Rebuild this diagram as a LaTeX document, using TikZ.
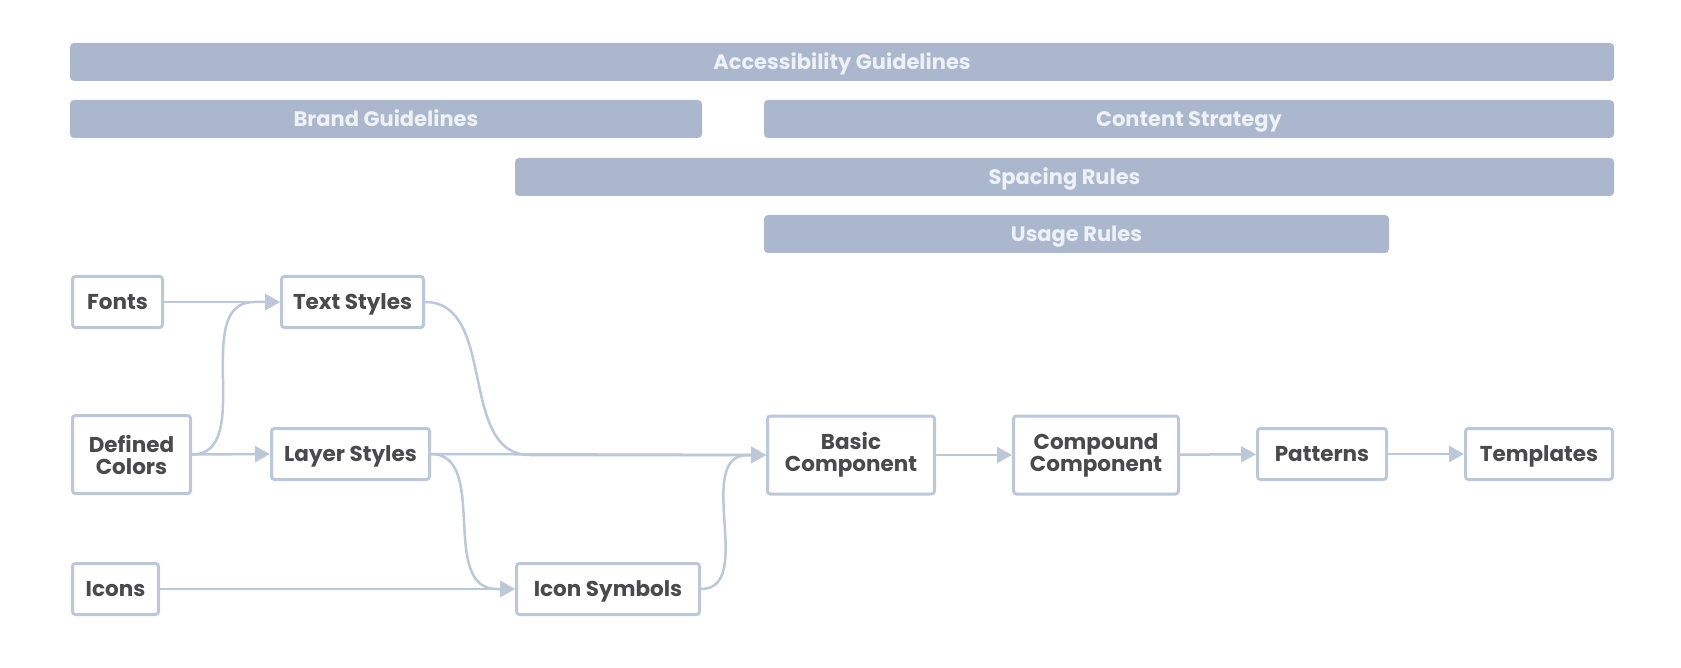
\documentclass[tikz,border=0pt]{standalone}
\usepackage{fontspec}
\setmainfont{Poppins}
\usetikzlibrary{arrows.meta}
\definecolor{barfill}{HTML}{AAB7CC}
\definecolor{bartext}{HTML}{EEF1F6}
\definecolor{edgecol}{HTML}{BCC7D8}
\definecolor{textcol}{HTML}{4A4A4D}
\tikzset{
	box/.style={draw=edgecol, line width=3pt, rounded corners=3pt, fill=white, text=textcol,
		font=\fontsize{21.5}{22}\selectfont\bfseries, align=center, inner sep=0pt, minimum height=51pt},
	onebox/.style={box, text height=18pt, text depth=3pt},
	bar/.style={fill=barfill, rounded corners=4pt, text=bartext, inner sep=0pt,
		font=\fontsize{21}{22}\selectfont\bfseries, minimum height=38pt, text height=18pt, text depth=3pt},
	link/.style={draw=edgecol, line width=2.5pt, -{Triangle[length=15pt,width=16pt]}}
}

\begin{document}
\begin{tikzpicture}[x=1pt, y=-1pt]
		%%%%% START %%%%%
		
		\useasboundingbox (0, 0) rectangle (1681, 668);
		
		\node[bar, minimum width=1544pt] (access) at (842, 62) {Accessibility Guidelines};
		\node[bar, minimum width=632pt] (brand) at (386, 119) {Brand Guidelines};
		\node[bar, minimum width=850pt] (content) at (1189, 119) {Content Strategy};
		\node[bar, minimum width=1099pt] (spacing) at (1064.5, 177) {Spacing Rules};
		\node[bar, minimum width=625pt] (usage) at (1076.5, 234) {Usage Rules};
		
		\node[onebox, minimum width=90pt] (fonts) at (117.5, 302) {Fonts};
		\node[onebox, minimum width=142pt] (textst) at (352.5, 302) {Text Styles};
		\node[box, minimum width=118pt, minimum height=78pt] (defcol) at (131.5, 454.5) {Defined\\Colors};
		\node[onebox, minimum width=158pt] (layerst) at (350.5, 454) {Layer Styles};
		\node[onebox, minimum width=86pt] (icons) at (115.5, 589) {Icons};
		\node[onebox, minimum width=183pt] (iconsym) at (608, 589) {Icon Symbols};
		
		\node[box, minimum width=167pt, minimum height=78pt] (basic) at (851, 455) {Basic\\Component};
		\node[box, minimum width=165pt, minimum height=78pt] (compound) at (1096, 455) {Compound\\Component};
		\node[onebox, minimum width=129pt] (patterns) at (1322, 454) {Patterns};
		\node[onebox, minimum width=147pt] (templates) at (1539, 454) {Templates};
		
		\coordinate (dcjoin) at (254, 302);
		\coordinate (tsjoin) at (530, 455);
		\coordinate (lsjoin) at (497, 589);
		\coordinate (isjoin) at (748, 455);
		
		\draw[link] (fonts.east) -- (textst.west);
		\draw[link] (defcol.east) to[out=0, in=180] (dcjoin) -- (textst.west);
		\draw[link] (defcol.east) -- (layerst.west);
		\draw[link] (textst.east) to[out=0, in=180] (tsjoin) -- (basic.west);
		\draw[link] (layerst.east) -- (basic.west);
		\draw[link] (layerst.east) to[out=0, in=180] (lsjoin) -- (iconsym.west);
		\draw[link] (icons.east) -- (iconsym.west);
		\draw[link] (iconsym.east) to[out=0, in=180] (isjoin) -- (basic.west);
		
		\draw[link] (basic) -- (compound);
		\draw[link] (compound) -- (patterns);
		\draw[link] (patterns) -- (templates);
		
		%%%%% END %%%%%
	\end{tikzpicture}
\end{document}
